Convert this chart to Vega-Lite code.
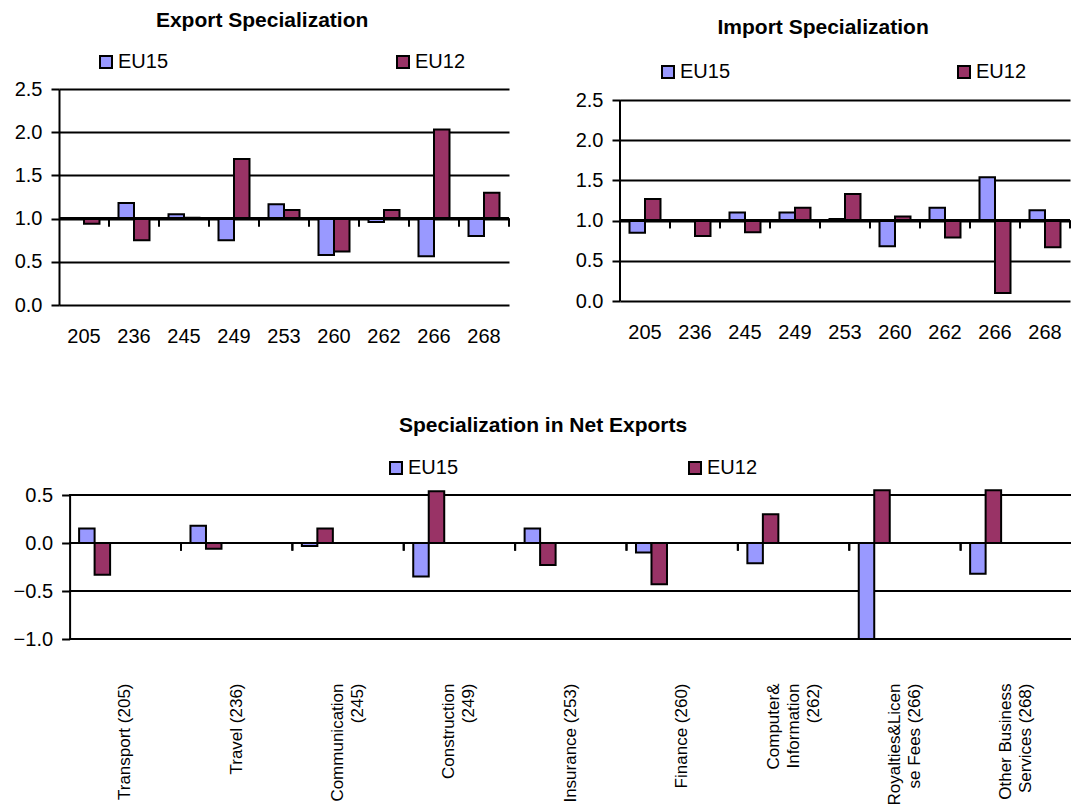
{
  "$schema": "https://vega.github.io/schema/vega-lite/v6.json",
  "background": "white",
  "padding": {"left": 13, "top": 10, "right": 0, "bottom": 0},
  "config": {
    "font": "Liberation Sans",
    "view": {"stroke": null},
    "axis": {
      "labelFont": "Liberation Sans",
      "labelFontSize": 20,
      "labelColor": "black",
      "labelOverlap": false,
      "domainColor": "black",
      "domainWidth": 2,
      "tickColor": "black",
      "tickWidth": 2,
      "gridColor": "black",
      "gridWidth": 2,
      "gridOpacity": 1,
      "title": null
    },
    "legend": {
      "labelFont": "Liberation Sans",
      "labelFontSize": 20,
      "labelColor": "black",
      "symbolType": "square",
      "symbolSize": 144,
      "symbolStrokeColor": "black",
      "symbolStrokeWidth": 2,
      "symbolOpacity": 1,
      "labelOffset": 2,
      "padding": 0,
      "title": null
    },
    "title": {
      "font": "Liberation Sans",
      "fontSize": 21,
      "fontWeight": "bold",
      "color": "black",
      "anchor": "middle",
      "frame": "bounds"
    }
  },
  "datasets": {
    "spec": [
      {"code": "205", "name": "Transport (205)", "series": "EU15", "exp": 1.0, "imp": 0.85, "net": 0.15},
      {"code": "205", "name": "Transport (205)", "series": "EU12", "exp": 0.94, "imp": 1.27, "net": -0.33},
      {"code": "236", "name": "Travel (236)", "series": "EU15", "exp": 1.18, "imp": 1.0, "net": 0.18},
      {"code": "236", "name": "Travel (236)", "series": "EU12", "exp": 0.75, "imp": 0.81, "net": -0.06},
      {"code": "245", "name": "Communication\n(245)", "series": "EU15", "exp": 1.05, "imp": 1.10, "net": -0.03},
      {"code": "245", "name": "Communication\n(245)", "series": "EU12", "exp": 1.01, "imp": 0.855, "net": 0.15},
      {"code": "249", "name": "Construction\n(249)", "series": "EU15", "exp": 0.75, "imp": 1.10, "net": -0.35},
      {"code": "249", "name": "Construction\n(249)", "series": "EU12", "exp": 1.69, "imp": 1.16, "net": 0.54},
      {"code": "253", "name": "Insurance (253)", "series": "EU15", "exp": 1.165, "imp": 1.02, "net": 0.15},
      {"code": "253", "name": "Insurance (253)", "series": "EU12", "exp": 1.10, "imp": 1.33, "net": -0.23},
      {"code": "260", "name": "Finance (260)", "series": "EU15", "exp": 0.58, "imp": 0.68, "net": -0.10},
      {"code": "260", "name": "Finance (260)", "series": "EU12", "exp": 0.62, "imp": 1.05, "net": -0.43},
      {"code": "262", "name": "Computer&\nInformation\n(262)", "series": "EU15", "exp": 0.96, "imp": 1.16, "net": -0.21},
      {"code": "262", "name": "Computer&\nInformation\n(262)", "series": "EU12", "exp": 1.10, "imp": 0.79, "net": 0.30},
      {"code": "266", "name": "Royalties&Licen\nse Fees (266)", "series": "EU15", "exp": 0.565, "imp": 1.54, "net": -1.0},
      {"code": "266", "name": "Royalties&Licen\nse Fees (266)", "series": "EU12", "exp": 2.03, "imp": 0.10, "net": 0.55},
      {"code": "268", "name": "Other Business\nServices (268)", "series": "EU15", "exp": 0.80, "imp": 1.13, "net": -0.32},
      {"code": "268", "name": "Other Business\nServices (268)", "series": "EU12", "exp": 1.30, "imp": 0.67, "net": 0.55}
    ]
  },
  "spacing": 69,
  "resolve": {"scale": {"color": "independent"}, "legend": {"color": "independent"}},
  "vconcat": [
    {
      "spacing": 65,
      "resolve": {"scale": {"color": "independent"}, "legend": {"color": "independent"}},
      "hconcat": [
        {
          "data": {"name": "spec"},
          "width": 450,
          "height": 216,
          "title": {"text": "Export Specialization", "offset": 21},
          "layer": [
            {
              "mark": {"type": "bar", "stroke": "black", "strokeWidth": 2},
              "encoding": {
                "x": {"field": "code", "type": "nominal", "sort": null,
                  "scale": {"paddingInner": 0, "paddingOuter": 0},
                  "axis": {"labelAngle": 0, "domain": false, "ticks": false, "labelPadding": 21}},
                "xOffset": {"field": "series", "type": "nominal", "sort": ["EU15", "EU12"],
                  "scale": {"domain": ["EU15", "EU12"], "paddingInner": 0, "paddingOuter": 0.613}},
                "y": {"field": "exp", "type": "quantitative",
                  "scale": {"domain": [0, 2.5], "nice": false, "zero": false},
                  "axis": {"values": [0, 0.5, 1, 1.5, 2, 2.5], "format": ".1f", "grid": true, "tickSize": 8, "labelPadding": 9}},
                "y2": {"datum": 1},
                "color": {"field": "series", "type": "nominal",
                  "scale": {"domain": ["EU15", "EU12"], "range": ["#9999FF", "#993366"]},
                  "legend": {"orient": "none", "legendX": 37, "legendY": -37, "direction": "horizontal", "columnPadding": 224}}
              }
            },
            {
              "mark": {"type": "rule", "color": "black", "strokeWidth": 2},
              "encoding": {"y": {"datum": 1}}
            },
            {
              "mark": {"type": "rule", "color": "black", "strokeWidth": 2},
              "encoding": {
                "x": {"field": "code", "type": "nominal", "sort": null, "bandPosition": 1},
                "y": {"datum": 1},
                "y2": {"datum": 0.91}
              }
            }
          ]
        },
        {
          "data": {"name": "spec"},
          "width": 450,
          "height": 212,
          "title": {"text": "Import Specialization", "offset": 24},
          "layer": [
            {
              "mark": {"type": "bar", "stroke": "black", "strokeWidth": 2},
              "encoding": {
                "x": {"field": "code", "type": "nominal", "sort": null,
                  "scale": {"paddingInner": 0, "paddingOuter": 0},
                  "axis": {"labelAngle": 0, "domain": false, "ticks": false, "labelPadding": 21}},
                "xOffset": {"field": "series", "type": "nominal", "sort": ["EU15", "EU12"],
                  "scale": {"domain": ["EU15", "EU12"], "paddingInner": 0, "paddingOuter": 0.613}},
                "y": {"field": "imp", "type": "quantitative",
                  "scale": {"domain": [0, 2.637], "nice": false, "zero": false},
                  "axis": {"values": [0, 0.5, 1, 1.5, 2, 2.5], "format": ".1f", "grid": true, "domain": false, "tickSize": 8, "labelPadding": 9}},
                "y2": {"datum": 1},
                "color": {"field": "series", "type": "nominal",
                  "scale": {"domain": ["EU15", "EU12"], "range": ["#9999FF", "#993366"]},
                  "legend": {"orient": "none", "legendX": 38, "legendY": -27, "direction": "horizontal", "columnPadding": 223}}
              }
            },
            {
              "mark": {"type": "rule", "color": "black", "strokeWidth": 2},
              "encoding": {"y": {"datum": 1}}
            },
            {
              "mark": {"type": "rule", "color": "black", "strokeWidth": 2},
              "encoding": {
                "x": {"datum": "205", "bandPosition": 0},
                "y": {"datum": 0},
                "y2": {"datum": 2.5}
              }
            },
            {
              "mark": {"type": "rule", "color": "black", "strokeWidth": 2},
              "encoding": {
                "x": {"field": "code", "type": "nominal", "sort": null, "bandPosition": 1},
                "y": {"datum": 1},
                "y2": {"datum": 0.904}
              }
            }
          ]
        }
      ]
    },
    {
      "data": {"name": "spec"},
      "width": 1013,
      "height": 144,
      "title": {"text": "Specialization in Net Exports", "offset": 22},
      "layer": [
        {
          "mark": {"type": "rule", "color": "black", "strokeWidth": 2},
          "encoding": {
            "x": {"datum": "Transport (205)", "bandPosition": 0},
            "x2": {"value": "width"},
            "y": {"datum": 0.5}
          }
        },
        {
          "mark": {"type": "rule", "color": "black", "strokeWidth": 2},
          "encoding": {
            "x": {"datum": "Transport (205)", "bandPosition": 0},
            "x2": {"value": "width"},
            "y": {"datum": -0.5}
          }
        },
        {
          "mark": {"type": "rule", "color": "black", "strokeWidth": 2},
          "encoding": {
            "x": {"datum": "Transport (205)", "bandPosition": 0},
            "x2": {"value": "width"},
            "y": {"datum": -1}
          }
        },
        {
          "mark": {"type": "bar", "stroke": "black", "strokeWidth": 2},
          "encoding": {
            "x": {"field": "name", "type": "nominal", "sort": null,
              "scale": {"paddingInner": 0, "paddingOuter": 0.0476, "align": 1},
              "axis": {"labelAngle": 270, "domain": false, "ticks": false, "labelPadding": 44,
                "labelFontSize": 17, "labelLineHeight": 20, "labelExpr": "split(datum.label, '\\n')",
                "labelOffset": {"condition": [
                  {"test": "length(split(datum.label, '\\n')) == 3", "value": -20},
                  {"test": "length(split(datum.label, '\\n')) == 2", "value": -10}
                ], "value": 0}}},
            "xOffset": {"field": "series", "type": "nominal", "sort": ["EU15", "EU12"],
              "scale": {"domain": ["EU15", "EU12"], "paddingInner": 0, "paddingOuter": 0.724}},
            "y": {"field": "net", "type": "quantitative",
              "scale": {"domain": [-1, 0.5], "nice": false, "zero": false},
              "axis": {"values": [-1, -0.5, 0, 0.5], "format": ".1f", "grid": false, "tickSize": 8, "labelPadding": 9, "offset": -10.6}},
            "y2": {"datum": 0},
            "color": {"field": "series", "type": "nominal",
              "scale": {"domain": ["EU15", "EU12"], "range": ["#9999FF", "#993366"]},
              "legend": {"orient": "none", "legendX": 327, "legendY": -37, "direction": "horizontal", "columnPadding": 226}}
          }
        },
        {
          "mark": {"type": "rule", "color": "black", "strokeWidth": 2},
          "encoding": {
            "x": {"datum": "Transport (205)", "bandPosition": 0},
            "x2": {"value": "width"},
            "y": {"datum": 0}
          }
        },
        {
          "mark": {"type": "rule", "color": "black", "strokeWidth": 2},
          "encoding": {
            "x": {"field": "name", "type": "nominal", "sort": null, "bandPosition": 1},
            "y": {"datum": 0},
            "y2": {"datum": -0.08}
          }
        }
      ]
    }
  ]
}
